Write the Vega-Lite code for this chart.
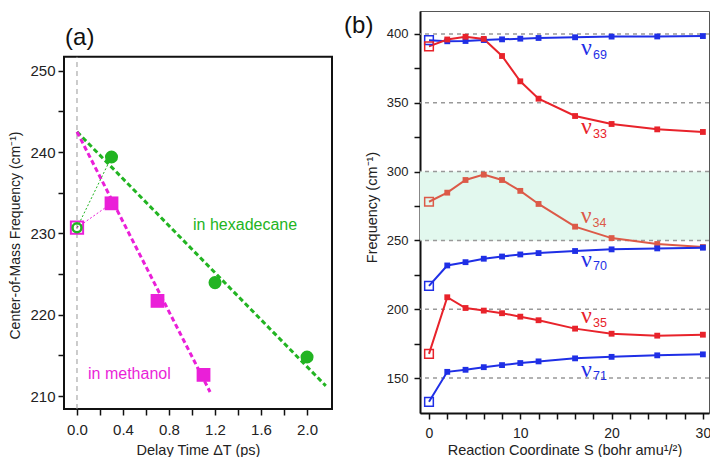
{
  "$schema": "https://vega.github.io/schema/vega-lite/v6.json",
  "background": "white",
  "padding": {"left": 8, "top": 10, "right": 0, "bottom": 0},
  "spacing": 10,
  "resolve": {"scale": {"color": "independent"}},
  "config": {
    "font": "Liberation Sans",
    "axis": {"labelFont": "Liberation Sans", "titleFont": "Liberation Sans", "labelColor": "#222", "titleColor": "#222", "tickColor": "#111", "domainColor": "#111", "titleFontWeight": "normal", "grid": false, "tickWidth": 1.5, "domainWidth": 2, "labelOverlap": false}
  },
  "hconcat": [
    {
      "width": 268,
      "height": 402,
      "view": {"stroke": null},
      "layer": [
        {
          "data": {"values": [{"x0": -0.113, "x1": 2.217, "y0": 208.4, "y1": 251.72}]},
          "mark": {"type": "rect", "fill": null, "stroke": "#111", "strokeWidth": 2},
          "encoding": {
            "x": {"field": "x0", "type": "quantitative", "scale": {"domain": [-0.113, 2.217], "nice": false, "zero": false},
              "axis": {"values": [0, 0.2, 0.4, 0.6, 0.8, 1.0, 1.2, 1.4, 1.6, 1.8, 2.0], "tickCount": 50, "labelExpr": "(abs((datum.value*10) % 4) < 0.01 || abs((datum.value*10) % 4 - 4) < 0.01) ? format(datum.value, '.1f') : ''", "labelOverlap": false, "domain": false, "offset": -4, "tickSize": 6, "labelPadding": 7, "labelFontSize": 15, "title": "Delay Time ΔT (ps)", "titleFontSize": 14.5, "titlePadding": 6}},
            "x2": {"field": "x1"},
            "y": {"field": "y0", "type": "quantitative", "scale": {"domain": [207.91, 257.36], "nice": false, "zero": false},
              "axis": {"values": [210, 215, 220, 225, 230, 235, 240, 245, 250], "tickCount": 50, "labelExpr": "datum.value % 10 === 0 ? format(datum.value, 'd') : ''", "labelOverlap": false, "domain": false, "tickSize": 6, "labelPadding": 3, "labelFontSize": 15, "title": "Center-of-Mass Frequency (cm⁻¹)", "titleFontSize": 14, "titlePadding": 7, "titleY": 224}},
            "y2": {"field": "y1"}
          }
        },
        {
          "data": {"values": [{"x": 0, "y0": 208.4, "y1": 251.72}]},
          "mark": {"type": "rule", "color": "#999", "strokeWidth": 1, "strokeDash": [5, 4]},
          "encoding": {
            "x": {"field": "x", "type": "quantitative", "scale": {"domain": [-0.113, 2.217], "nice": false, "zero": false}},
            "y": {"field": "y0", "type": "quantitative", "scale": {"domain": [207.91, 257.36], "nice": false, "zero": false}},
            "y2": {"field": "y1"}
          }
        },
        {
          "data": {"values": [
            {"solvent": "hexadecane", "t": 0, "f": 242.5},
            {"solvent": "hexadecane", "t": 2.163, "f": 211.25},
            {"solvent": "methanol", "t": 0, "f": 242.5},
            {"solvent": "methanol", "t": 1.157, "f": 210.5}
          ]},
          "mark": {"type": "line", "strokeWidth": 3, "strokeDash": [5, 3]},
          "encoding": {
            "x": {"field": "t", "type": "quantitative", "scale": {"domain": [-0.113, 2.217], "nice": false, "zero": false}},
            "y": {"field": "f", "type": "quantitative", "scale": {"domain": [207.91, 257.36], "nice": false, "zero": false}},
            "color": {"field": "solvent", "type": "nominal", "scale": {"domain": ["hexadecane", "methanol"], "range": ["#22b422", "#ea1fd8"]}, "legend": null}
          }
        },
        {
          "data": {"values": [
            {"solvent": "hexadecane", "t": 0, "f": 230.7},
            {"solvent": "hexadecane", "t": 0.3, "f": 239.4},
            {"solvent": "methanol", "t": 0, "f": 230.7},
            {"solvent": "methanol", "t": 0.3, "f": 233.7}
          ]},
          "mark": {"type": "line", "strokeWidth": 1, "strokeDash": [2, 2]},
          "encoding": {
            "x": {"field": "t", "type": "quantitative", "scale": {"domain": [-0.113, 2.217], "nice": false, "zero": false}},
            "y": {"field": "f", "type": "quantitative", "scale": {"domain": [207.91, 257.36], "nice": false, "zero": false}},
            "color": {"field": "solvent", "type": "nominal", "legend": null}
          }
        },
        {
          "data": {"values": [
            {"solvent": "methanol", "t": 0, "f": 230.7}
          ]},
          "mark": {"type": "point", "shape": "square", "filled": false, "size": 150, "strokeWidth": 2, "opacity": 1},
          "encoding": {
            "x": {"field": "t", "type": "quantitative", "scale": {"domain": [-0.113, 2.217], "nice": false, "zero": false}},
            "y": {"field": "f", "type": "quantitative", "scale": {"domain": [207.91, 257.36], "nice": false, "zero": false}},
            "color": {"field": "solvent", "type": "nominal", "legend": null}
          }
        },
        {
          "data": {"values": [
            {"solvent": "hexadecane", "t": 0, "f": 230.7}
          ]},
          "mark": {"type": "point", "shape": "circle", "filled": false, "size": 80, "strokeWidth": 2.5, "opacity": 1},
          "encoding": {
            "x": {"field": "t", "type": "quantitative", "scale": {"domain": [-0.113, 2.217], "nice": false, "zero": false}},
            "y": {"field": "f", "type": "quantitative", "scale": {"domain": [207.91, 257.36], "nice": false, "zero": false}},
            "color": {"field": "solvent", "type": "nominal", "legend": null}
          }
        },
        {
          "data": {"values": [
            {"solvent": "hexadecane", "t": 0.3, "f": 239.4},
            {"solvent": "hexadecane", "t": 1.2, "f": 223.95},
            {"solvent": "hexadecane", "t": 2.0, "f": 214.8}
          ]},
          "mark": {"type": "point", "shape": "circle", "filled": true, "size": 170, "opacity": 1},
          "encoding": {
            "x": {"field": "t", "type": "quantitative", "scale": {"domain": [-0.113, 2.217], "nice": false, "zero": false}},
            "y": {"field": "f", "type": "quantitative", "scale": {"domain": [207.91, 257.36], "nice": false, "zero": false}},
            "color": {"field": "solvent", "type": "nominal", "legend": null}
          }
        },
        {
          "data": {"values": [
            {"solvent": "methanol", "t": 0.3, "f": 233.7},
            {"solvent": "methanol", "t": 0.7, "f": 221.7},
            {"solvent": "methanol", "t": 1.1, "f": 212.6}
          ]},
          "mark": {"type": "point", "shape": "square", "filled": true, "size": 190, "opacity": 1},
          "encoding": {
            "x": {"field": "t", "type": "quantitative", "scale": {"domain": [-0.113, 2.217], "nice": false, "zero": false}},
            "y": {"field": "f", "type": "quantitative", "scale": {"domain": [207.91, 257.36], "nice": false, "zero": false}},
            "color": {"field": "solvent", "type": "nominal", "legend": null}
          }
        },
        {
          "data": {"values": [
            {"solvent": "hexadecane", "label": "in hexadecane", "t": 1.009, "f": 231.0},
            {"solvent": "methanol", "label": "in methanol", "t": 0.096, "f": 212.7}
          ]},
          "mark": {"type": "text", "align": "left", "baseline": "middle", "fontSize": 16, "font": "Liberation Sans"},
          "encoding": {
            "x": {"field": "t", "type": "quantitative", "scale": {"domain": [-0.113, 2.217], "nice": false, "zero": false}},
            "y": {"field": "f", "type": "quantitative", "scale": {"domain": [207.91, 257.36], "nice": false, "zero": false}},
            "text": {"field": "label"},
            "color": {"field": "solvent", "type": "nominal", "legend": null}
          }
        },
        {
          "data": {"values": [{"label": "(a)", "t": -0.104, "f": 254.1}]},
          "mark": {"type": "text", "align": "left", "baseline": "middle", "fontSize": 24, "font": "Liberation Sans", "color": "#111"},
          "encoding": {
            "x": {"field": "t", "type": "quantitative", "scale": {"domain": [-0.113, 2.217], "nice": false, "zero": false}},
            "y": {"field": "f", "type": "quantitative", "scale": {"domain": [207.91, 257.36], "nice": false, "zero": false}},
            "text": {"field": "label"}
          }
        }
      ]
    },
    {
      "width": 289,
      "height": 402,
      "view": {"stroke": "#555", "strokeWidth": 1},
      "layer": [
        {
          "data": {"values": [{"lo": 250, "hi": 300}]},
          "mark": {"type": "rect", "color": "#e2f8ee"},
          "encoding": {
            "y": {"field": "lo", "type": "quantitative", "scale": {"domain": [124.6, 416.7], "nice": false, "zero": false},
              "axis": {"values": [150, 175, 200, 225, 250, 275, 300, 325, 350, 375, 400], "tickCount": 50, "labelExpr": "datum.value % 50 === 0 ? format(datum.value, 'd') : ''", "labelOverlap": false, "tickSize": 6, "labelPadding": 6, "labelFontSize": 13, "title": "Frequency (cm⁻¹)", "titleFontSize": 14.5, "titlePadding": 7, "titleY": 196}},
            "y2": {"field": "hi"}
          }
        },
        {
          "data": {"values": [{"g": 150}, {"g": 200}, {"g": 250}, {"g": 300}, {"g": 350}, {"g": 400}]},
          "mark": {"type": "rule", "color": "#999", "strokeWidth": 1.5, "strokeDash": [4, 4]},
          "encoding": {
            "y": {"field": "g", "type": "quantitative", "scale": {"domain": [124.6, 416.7], "nice": false, "zero": false}}
          }
        },
        {
          "data": {"name": "modes"},
          "mark": {"type": "line", "strokeWidth": 2},
          "encoding": {
            "x": {"field": "s", "type": "quantitative", "scale": {"domain": [-0.986, 30.67], "nice": false, "zero": false},
              "axis": {"values": [0, 2, 4, 6, 8, 10, 12, 14, 16, 18, 20, 22, 24, 26, 28, 30], "tickCount": 50, "labelExpr": "datum.value % 10 === 0 ? format(datum.value, 'd') : ''", "labelOverlap": false, "labelFlush": false, "tickSize": 6, "labelPadding": 7, "labelFontSize": 14, "title": "Reaction Coordinate S (bohr amu¹/²)", "titleFontSize": 14.5, "titlePadding": 3}},
            "y": {"field": "f", "type": "quantitative", "scale": {"domain": [124.6, 416.7], "nice": false, "zero": false}},
            "color": {"field": "mode", "type": "nominal", "scale": {"domain": ["ν69", "ν33", "ν34", "ν70", "ν35", "ν71"], "range": ["#1f2fe6", "#e8232b", "#dc5a48", "#1f2fe6", "#e8232b", "#1f2fe6"]}, "legend": null},
            "order": {"field": "s", "type": "quantitative"}
          }
        },
        {
          "data": {"name": "modes"},
          "transform": [{"filter": "datum.s > 0"}],
          "mark": {"type": "square", "size": 34, "opacity": 1},
          "encoding": {
            "x": {"field": "s", "type": "quantitative", "scale": {"domain": [-0.986, 30.67], "nice": false, "zero": false}},
            "y": {"field": "f", "type": "quantitative", "scale": {"domain": [124.6, 416.7], "nice": false, "zero": false}},
            "color": {"field": "mode", "type": "nominal", "legend": null}
          }
        },
        {
          "data": {"name": "modes"},
          "transform": [{"filter": "datum.s === 0"}],
          "mark": {"type": "point", "shape": "square", "filled": false, "size": 75, "strokeWidth": 1.5, "opacity": 1},
          "encoding": {
            "x": {"field": "s", "type": "quantitative", "scale": {"domain": [-0.986, 30.67], "nice": false, "zero": false}},
            "y": {"field": "f", "type": "quantitative", "scale": {"domain": [124.6, 416.7], "nice": false, "zero": false}},
            "color": {"field": "mode", "type": "nominal", "legend": null}
          }
        },
        {
          "data": {"name": "labels"},
          "mark": {"type": "text", "align": "right", "baseline": "alphabetic", "fontSize": 24, "font": "Liberation Serif"},
          "encoding": {
            "x": {"field": "s", "type": "quantitative", "scale": {"domain": [-0.986, 30.67], "nice": false, "zero": false}},
            "y": {"field": "f", "type": "quantitative", "scale": {"domain": [124.6, 416.7], "nice": false, "zero": false}},
            "text": {"field": "nu"},
            "color": {"field": "mode", "type": "nominal", "legend": null}
          }
        },
        {
          "data": {"name": "labels"},
          "mark": {"type": "text", "align": "left", "baseline": "alphabetic", "fontSize": 12.5, "font": "Liberation Sans", "dx": 1, "dy": 3.5},
          "encoding": {
            "x": {"field": "s", "type": "quantitative", "scale": {"domain": [-0.986, 30.67], "nice": false, "zero": false}},
            "y": {"field": "f", "type": "quantitative", "scale": {"domain": [124.6, 416.7], "nice": false, "zero": false}},
            "text": {"field": "sub"},
            "color": {"field": "mode", "type": "nominal", "legend": null}
          }
        },
        {
          "data": {"values": [{"label": "(b)", "s": -9.3, "f": 405.8}]},
          "mark": {"type": "text", "align": "left", "baseline": "middle", "fontSize": 24, "font": "Liberation Sans", "color": "#111"},
          "encoding": {
            "x": {"field": "s", "type": "quantitative", "scale": {"domain": [-0.986, 30.67], "nice": false, "zero": false}},
            "y": {"field": "f", "type": "quantitative", "scale": {"domain": [124.6, 416.7], "nice": false, "zero": false}},
            "text": {"field": "label"}
          }
        }
      ]
    }
  ],
  "datasets": {
    "labels": [
      {"mode": "ν69", "nu": "ν", "sub": "69", "s": 17.85, "f": 384.7},
      {"mode": "ν33", "nu": "ν", "sub": "33", "s": 17.85, "f": 327.0},
      {"mode": "ν34", "nu": "ν", "sub": "34", "s": 17.8, "f": 262.5},
      {"mode": "ν70", "nu": "ν", "sub": "70", "s": 17.85, "f": 231.0},
      {"mode": "ν35", "nu": "ν", "sub": "35", "s": 17.85, "f": 189.7},
      {"mode": "ν71", "nu": "ν", "sub": "71", "s": 17.85, "f": 150.8}
    ],
    "modes": [
      {"mode": "ν69", "s": 0, "f": 395.5}, {"mode": "ν69", "s": 2, "f": 394.7}, {"mode": "ν69", "s": 4, "f": 394.9}, {"mode": "ν69", "s": 6, "f": 395.6}, {"mode": "ν69", "s": 8, "f": 396.1}, {"mode": "ν69", "s": 10, "f": 396.6}, {"mode": "ν69", "s": 12, "f": 397.1}, {"mode": "ν69", "s": 16, "f": 397.6}, {"mode": "ν69", "s": 20, "f": 398.1}, {"mode": "ν69", "s": 25, "f": 398.2}, {"mode": "ν69", "s": 30, "f": 398.5},
      {"mode": "ν33", "s": 0, "f": 391.0}, {"mode": "ν33", "s": 2, "f": 396.0}, {"mode": "ν33", "s": 4, "f": 398.0}, {"mode": "ν33", "s": 6, "f": 396.4}, {"mode": "ν33", "s": 8, "f": 384.0}, {"mode": "ν33", "s": 10, "f": 365.6}, {"mode": "ν33", "s": 12, "f": 353.0}, {"mode": "ν33", "s": 16, "f": 340.4}, {"mode": "ν33", "s": 20, "f": 334.6}, {"mode": "ν33", "s": 25, "f": 330.7}, {"mode": "ν33", "s": 30, "f": 328.8},
      {"mode": "ν34", "s": 0, "f": 278.1}, {"mode": "ν34", "s": 2, "f": 284.7}, {"mode": "ν34", "s": 4, "f": 293.9}, {"mode": "ν34", "s": 6, "f": 297.8}, {"mode": "ν34", "s": 8, "f": 293.9}, {"mode": "ν34", "s": 10, "f": 286.0}, {"mode": "ν34", "s": 12, "f": 276.5}, {"mode": "ν34", "s": 16, "f": 260.0}, {"mode": "ν34", "s": 20, "f": 251.7}, {"mode": "ν34", "s": 25, "f": 247.4}, {"mode": "ν34", "s": 30, "f": 245.2},
      {"mode": "ν70", "s": 0, "f": 217.0}, {"mode": "ν70", "s": 2, "f": 231.8}, {"mode": "ν70", "s": 4, "f": 234.2}, {"mode": "ν70", "s": 6, "f": 236.7}, {"mode": "ν70", "s": 8, "f": 238.3}, {"mode": "ν70", "s": 10, "f": 239.8}, {"mode": "ν70", "s": 12, "f": 240.8}, {"mode": "ν70", "s": 16, "f": 242.3}, {"mode": "ν70", "s": 20, "f": 243.5}, {"mode": "ν70", "s": 25, "f": 244.2}, {"mode": "ν70", "s": 30, "f": 244.7},
      {"mode": "ν35", "s": 0, "f": 167.6}, {"mode": "ν35", "s": 2, "f": 208.7}, {"mode": "ν35", "s": 4, "f": 200.9}, {"mode": "ν35", "s": 6, "f": 199.0}, {"mode": "ν35", "s": 8, "f": 197.1}, {"mode": "ν35", "s": 10, "f": 194.6}, {"mode": "ν35", "s": 12, "f": 192.0}, {"mode": "ν35", "s": 16, "f": 185.9}, {"mode": "ν35", "s": 20, "f": 182.2}, {"mode": "ν35", "s": 25, "f": 180.8}, {"mode": "ν35", "s": 30, "f": 181.5},
      {"mode": "ν71", "s": 0, "f": 132.7}, {"mode": "ν71", "s": 2, "f": 154.5}, {"mode": "ν71", "s": 4, "f": 156.0}, {"mode": "ν71", "s": 6, "f": 157.9}, {"mode": "ν71", "s": 8, "f": 159.4}, {"mode": "ν71", "s": 10, "f": 160.9}, {"mode": "ν71", "s": 12, "f": 162.1}, {"mode": "ν71", "s": 16, "f": 164.3}, {"mode": "ν71", "s": 20, "f": 165.4}, {"mode": "ν71", "s": 25, "f": 166.5}, {"mode": "ν71", "s": 30, "f": 167.2}
    ]
  }
}
